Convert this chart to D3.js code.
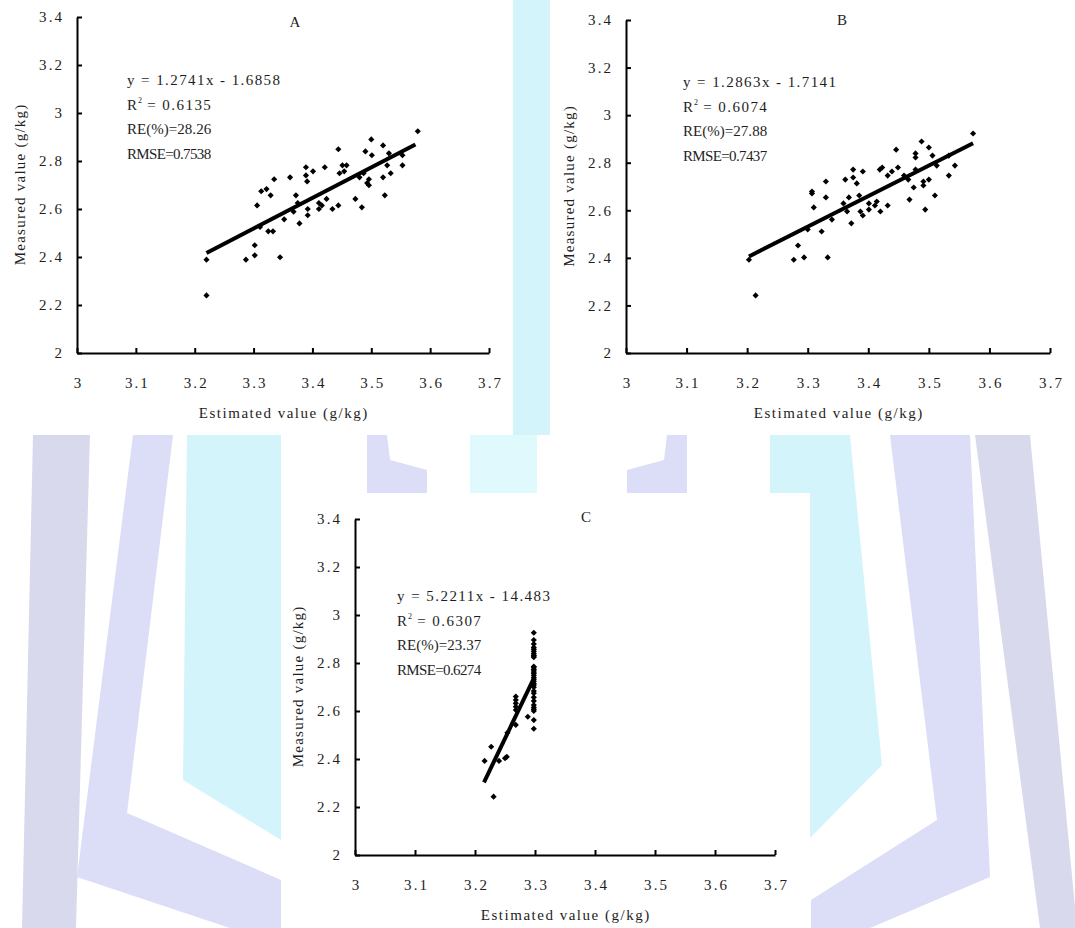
<!DOCTYPE html>
<html>
<head>
<meta charset="utf-8">
<script src="https://cdn.jsdelivr.net/npm/d3@7"></script>
<style>
  body { margin: 0; background: #fff; }
  text { font-family: "Liberation Serif", "DejaVu Serif", serif; font-size: 15px; fill: #1e1e1e; }
</style>
</head>
<body>
<div id="chart"></div>
<script>
// data
const xTickValues = [3, 3.1, 3.2, 3.3, 3.4, 3.5, 3.6, 3.7];
const yTickValues = [2, 2.2, 2.4, 2.6, 2.8, 3, 3.2, 3.4];
const xTitle = 'Estimated value (g/kg)';
const yTitle = 'Measured value (g/kg)';

const aEstimated = [3.220, 3.220, 3.287, 3.302, 3.302, 3.306, 3.313, 3.322, 3.329, 3.335, 3.311, 3.325, 3.333, 3.345, 3.352,
  3.362, 3.368, 3.372, 3.375, 3.378, 3.389, 3.389, 3.391, 3.392, 3.392, 3.401, 3.411, 3.411, 3.416, 3.421, 3.424, 3.434,
  3.444, 3.444, 3.446, 3.451, 3.454, 3.458, 3.473, 3.480, 3.484, 3.487, 3.490, 3.493, 3.496, 3.496, 3.500, 3.501, 3.520,
  3.520, 3.523, 3.527, 3.530, 3.533, 3.553, 3.553, 3.579];
const aMeasured = [2.389, 2.240, 2.389, 2.449, 2.407, 2.615, 2.674, 2.683, 2.657, 2.724, 2.525, 2.507, 2.507, 2.399, 2.557,
  2.732, 2.589, 2.657, 2.625, 2.540, 2.774, 2.740, 2.715, 2.600, 2.574, 2.757, 2.625, 2.600, 2.615, 2.774, 2.642, 2.600,
  2.849, 2.615, 2.749, 2.782, 2.757, 2.782, 2.642, 2.732, 2.607, 2.749, 2.840, 2.708, 2.724, 2.699, 2.890, 2.824, 2.865,
  2.732, 2.657, 2.782, 2.832, 2.749, 2.824, 2.782, 2.924];

const bEstimated = [3.203, 3.214, 3.277, 3.284, 3.294, 3.300, 3.307, 3.307, 3.310, 3.323, 3.330, 3.330, 3.333, 3.340, 3.359,
  3.362, 3.365, 3.368, 3.372, 3.375, 3.375, 3.381, 3.385, 3.387, 3.391, 3.391, 3.401, 3.401, 3.411, 3.414, 3.419, 3.423,
  3.420, 3.432, 3.432, 3.439, 3.446, 3.449, 3.459, 3.466, 3.468, 3.475, 3.478, 3.478, 3.478, 3.488, 3.491, 3.491, 3.494,
  3.500, 3.500, 3.506, 3.510, 3.513, 3.533, 3.533, 3.543, 3.573];
const bMeasured = [2.392, 2.242, 2.392, 2.452, 2.402, 2.519, 2.679, 2.671, 2.612, 2.511, 2.721, 2.654, 2.402, 2.561, 2.629,
  2.729, 2.595, 2.654, 2.545, 2.771, 2.738, 2.713, 2.662, 2.595, 2.763, 2.578, 2.603, 2.629, 2.620, 2.637, 2.771, 2.780,
  2.595, 2.620, 2.746, 2.763, 2.855, 2.780, 2.746, 2.729, 2.645, 2.696, 2.839, 2.822, 2.771, 2.889, 2.721, 2.704, 2.603,
  2.864, 2.729, 2.830, 2.662, 2.788, 2.746, 2.830, 2.788, 2.923];

const cEstimated = [3.216, 3.227, 3.231, 3.240, 3.250, 3.253, 3.254, 3.268, 3.268, 3.268, 3.268, 3.268, 3.268, 3.288,
  3.298, 3.298, 3.298, 3.298, 3.298, 3.298, 3.298, 3.298, 3.298, 3.298, 3.298, 3.298, 3.298, 3.298, 3.298, 3.298, 3.298,
  3.298, 3.298, 3.298, 3.298, 3.298, 3.298, 3.298, 3.298, 3.298, 3.298, 3.298, 3.298, 3.298, 3.298, 3.298, 3.298];
const cMeasured = [2.392, 2.451, 2.243, 2.392, 2.403, 2.409, 2.509, 2.660, 2.646, 2.632, 2.618, 2.604, 2.542, 2.576,
  2.926, 2.896, 2.879, 2.865, 2.857, 2.849, 2.840, 2.832, 2.829, 2.824, 2.785, 2.782, 2.774, 2.771, 2.763, 2.757, 2.749,
  2.740, 2.732, 2.724, 2.715, 2.708, 2.699, 2.683, 2.674, 2.657, 2.642, 2.625, 2.615, 2.607, 2.600, 2.562, 2.526];

// slope, intercept and the x span of each fitted line
const aFit = [1.2741, -1.6858], aFitRange = [3.22, 3.575];
const bFit = [1.2863, -1.7141], bFitRange = [3.203, 3.573];
const cFit = [5.2211, -14.483], cFitRange = [3.215, 3.297];

const aNotes = ['y = 1.2741x - 1.6858', '0.6135', 'RE(%)=28.26', 'RMSE=0.7538'];
const bNotes = ['y = 1.2863x - 1.7141', '0.6074', 'RE(%)=27.88', 'RMSE=0.7437'];
const cNotes = ['y = 5.2211x - 14.483', '0.6307', 'RE(%)=23.37', 'RMSE=0.6274'];

const W = 1075, H = 928;
const CELL = 7.65; // the original font puts every latin char in a half-width cell

const svg = d3.select('#chart').append('svg').attr('width', W).attr('height', H);

// faint watermark behind the panels
const lav = '#dcddf6', lavGrey = '#d9d9ee', cyan = '#d3f4fb';
const marks = [
  { c: cyan, p: [[513, 0], [550, 0], [550, 435], [513, 435]] },
  { c: lavGrey, p: [[33, 435], [90, 435], [76, 928], [22, 928]] },
  { c: lav, p: [[133, 435], [173, 435], [127, 813], [281, 880], [281, 928], [230, 928], [77, 877]] },
  { c: cyan, p: [[187, 435], [281, 435], [281, 840], [183, 780]] },
  { c: cyan, p: [[800, 435], [850, 435], [882, 765], [810, 838], [810, 493], [800, 493]] },
  { c: lav, p: [[890, 435], [970, 435], [990, 877], [870, 928], [811, 928], [811, 900], [937, 820]] },
  { c: lavGrey, p: [[975, 435], [1030, 435], [1077, 928], [1040, 928]] },
  { c: lav, p: [[367, 435], [387, 435], [390, 460], [427, 470], [427, 493], [367, 493]] },
  { c: lav, p: [[667, 435], [687, 435], [687, 493], [627, 493], [627, 470], [664, 460]] },
  { c: '#dff9fc', p: [[470, 435], [537, 435], [537, 493], [470, 493]] },
  { c: cyan, p: [[770, 435], [810, 435], [810, 493], [770, 493]] }
];
svg.append('g').selectAll('polygon').data(marks).join('polygon')
  .attr('points', d => d.p.join(' '))
  .attr('fill', d => d.c);

// white boxes the panels sit on
const boxes = [[0, 0, 513, 435], [550, 0, 525, 435], [281, 493, 529, 435]];
svg.append('g').selectAll('rect').data(boxes).join('rect')
  .attr('x', d => d[0]).attr('y', d => d[1]).attr('width', d => d[2]).attr('height', d => d[3])
  .attr('fill', '#fff');

const panels = [
  { name: 'A', est: aEstimated, meas: aMeasured, fit: aFit, range: aFitRange, notes: aNotes,
    left: 77, top: 17, w: 412, h: 336, titleDx: 218, titleDy: 10, noteDx: 50, noteDy: 68 },
  { name: 'B', est: bEstimated, meas: bMeasured, fit: bFit, range: bFitRange, notes: bNotes,
    left: 626, top: 20, w: 424, h: 333, titleDx: 216, titleDy: 5, noteDx: 57, noteDy: 67 },
  { name: 'C', est: cEstimated, meas: cMeasured, fit: cFit, range: cFitRange, notes: cNotes,
    left: 355, top: 519, w: 420, h: 336, titleDx: 231, titleDy: 3, noteDx: 42, noteDy: 82 }
];

panels.forEach(drawPanel);

// stretch text to the half-width cells
function cells(sel, n) {
  sel.each(function () {
    const len = n || this.textContent.length;
    d3.select(this).attr('textLength', len * CELL).attr('lengthAdjust', 'spacing');
  });
  return sel;
}

function drawPanel(p) {
  const g = svg.append('g').attr('transform', `translate(${p.left},${p.top})`);
  const x = d3.scaleLinear().domain([3, 3.7]).range([0, p.w]);
  const y = d3.scaleLinear().domain([2, 3.4]).range([p.h, 0]);

  const xAxis = d3.axisBottom(x).tickValues(xTickValues).tickFormat(String)
    .tickSizeInner(-5).tickSizeOuter(0).tickPadding(24);
  const yAxis = d3.axisLeft(y).tickValues(yTickValues).tickFormat(String)
    .tickSizeInner(-5).tickSizeOuter(0).tickPadding(15);

  const gx = g.append('g').attr('transform', `translate(0,${p.h})`).call(xAxis);
  const gy = g.append('g').call(yAxis);
  [gx, gy].forEach(a => {
    a.attr('font-family', null).attr('font-size', null);
    a.selectAll('path, line').attr('stroke', '#000').attr('stroke-width', 2);
    cells(a.selectAll('text').attr('fill', '#1e1e1e'));
  });

  // fitted line
  const fitX = p.range;
  g.append('line')
    .attr('x1', x(fitX[0])).attr('y1', y(p.fit[0] * fitX[0] + p.fit[1]))
    .attr('x2', x(fitX[1])).attr('y2', y(p.fit[0] * fitX[1] + p.fit[1]))
    .attr('stroke', '#000').attr('stroke-width', 4);

  const diamond = d3.symbol().type(d3.symbolDiamond2).size(24);
  g.append('g').selectAll('path').data(p.est).join('path')
    .attr('transform', (d, i) => `translate(${x(d)},${y(p.meas[i])})`)
    .attr('d', diamond)
    .attr('fill', '#000');

  g.append('text').attr('x', p.titleDx).attr('y', p.titleDy).attr('text-anchor', 'middle').text(p.name);

  cells(g.append('text').attr('x', p.w / 2).attr('y', p.h + 65).attr('text-anchor', 'middle').text(xTitle));
  cells(g.append('text').attr('transform', `translate(-52,${p.h / 2}) rotate(-90)`)
    .attr('text-anchor', 'middle').text(yTitle));

  // stats block
  const lineGap = 24.5;
  p.notes.forEach((t, i) => {
    const txt = g.append('text').attr('x', p.noteDx).attr('y', p.noteDy + i * lineGap);
    if (i === 1) {
      txt.append('tspan').text('R');
      txt.append('tspan').attr('font-size', 8).attr('dy', -7).attr('dx', 1).text('2');
      cells(txt.append('tspan').attr('dy', 7).text(' = ' + t));
    } else {
      cells(txt.text(t));
    }
  });
}
</script>
</body>
</html>
